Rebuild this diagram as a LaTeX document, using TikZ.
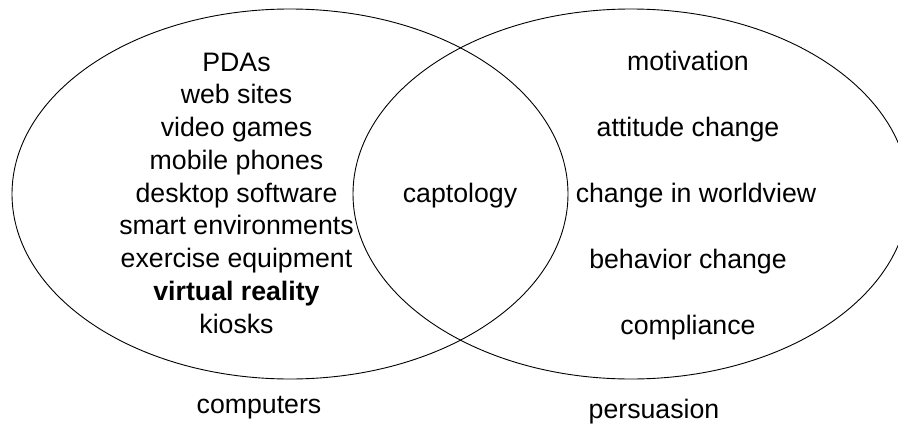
\documentclass[tikz,border=0pt]{standalone}
\usepackage{fontspec}
\setmainfont{Liberation Sans}
\begin{document}
\begin{tikzpicture}[x=1pt,y=-1pt,
  lbl/.style={anchor=base,inner sep=0pt,font=\fontsize{26.7}{32}\selectfont},
  ring/.style={draw=black,line width=0.9pt}]
\useasboundingbox (0,0) rectangle (898,426);
\draw[ring] (290,194) ellipse [x radius=278, y radius=185];
\draw[ring] (631,194) ellipse [x radius=278, y radius=185];
% left list
\node[lbl] (pda) at (236.5,71) {PDAs};
\node[lbl] (web) at (236.5,103.75) {web sites};
\node[lbl] (vid) at (236.5,136.5) {video games};
\node[lbl] (mob) at (236.5,169.25) {mobile phones};
\node[lbl] (desk) at (236.5,202) {desktop software};
\node[lbl] (smart) at (236.5,234.75) {smart environments};
\node[lbl] (exer) at (236.5,267.5) {exercise equipment};
\node[lbl] (vr) at (236.5,300.25) {\bfseries virtual reality};
\node[lbl] (kiosk) at (236.5,333) {kiosks};
% middle
\node[lbl] (capt) at (460,202) {captology};
% right list
\node[lbl] (mot) at (688,70.7) {motivation};
\node[lbl] (att) at (688,136.7) {attitude change};
\node[lbl] (world) at (696,202) {change in worldview};
\node[lbl] (beh) at (688,268.7) {behavior change};
\node[lbl] (comp) at (688,334) {compliance};
% captions
\node[lbl] (computers) at (259,413) {computers};
\node[lbl] (persuasion) at (654,418) {persuasion};
\end{tikzpicture}
\end{document}
